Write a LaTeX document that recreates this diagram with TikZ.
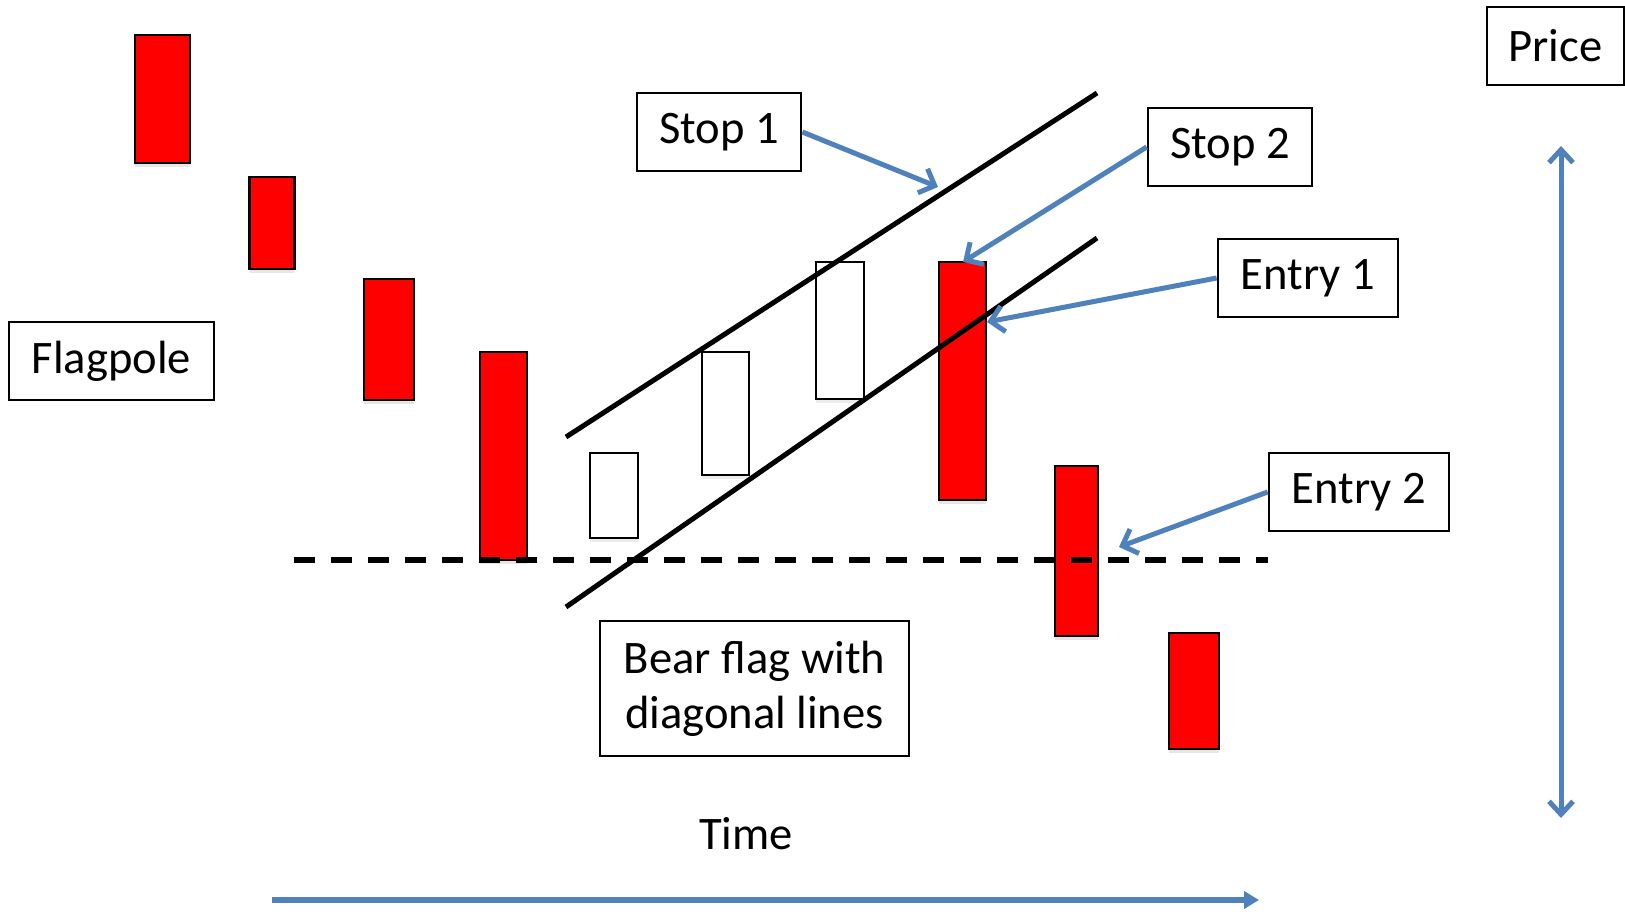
\documentclass[tikz,border=0pt]{standalone}
\usepackage{fontspec}
\setmainfont{Carlito}
\usetikzlibrary{arrows.meta,shadows}
\definecolor{arrowblue}{RGB}{79,129,189}

\begin{document}
\begin{tikzpicture}[x=1pt,y=-1pt]

    \tikzset{
      bear/.style={
        draw,
        fill=red,
        line width=2.7pt,
        inner sep=0pt,
        drop shadow={opacity=0.2,shadow xshift=0pt,shadow yshift=-4pt},
      },
      hollow/.style={
        draw,
        fill=white,
        line width=2pt,
        inner sep=0pt,
        drop shadow={opacity=0.15,shadow xshift=0pt,shadow yshift=-4pt},
      },
      tag/.style={
        draw,
        fill=white,
        line width=2.7pt,
        inner sep=0pt,
        minimum height=78pt,
        font=\fontsize{46.6}{56}\selectfont,
      },
      pointer/.style={
        draw=arrowblue,
        line width=5pt,
        -{Straight Barb[length=13pt,width=26pt,line width=5pt]},
      },
    }
    \useasboundingbox (0,0) rectangle (1625,912);

    % flagpole candles
    \node[bear, minimum width=55pt, minimum height=128pt] (c1) at (162.5,99) {};
    \node[bear, minimum width=44.5pt, minimum height=92pt] (c2) at (272,223) {};
    \node[bear, minimum width=50pt, minimum height=121pt] (c3) at (389,339.5) {};
    \node[bear, minimum width=47pt, minimum height=208pt] (c4) at (503.5,456) {};
    % flag candles
    \node[hollow, minimum width=48pt, minimum height=85pt] (h1) at (614,495.5) {};
    \node[hollow, minimum width=47pt, minimum height=123pt] (h2) at (725,413.5) {};
    \node[hollow, minimum width=48pt, minimum height=137pt] (h3) at (840,330.5) {};
    % breakout candles
    \node[bear, minimum width=47pt, minimum height=238pt] (c5) at (962.5,381) {};
    \node[bear, minimum width=43pt, minimum height=170pt] (c6) at (1076.5,551) {};
    \node[bear, minimum width=50pt, minimum height=116pt] (c7) at (1194,691) {};

    % channel and support
    \coordinate (upA) at (566,437);
    \coordinate (upB) at (1097,93);
    \coordinate (loA) at (566,607);
    \coordinate (loB) at (1097,238);
    \coordinate (supA) at (294,560);
    \coordinate (supB) at (1268,560);
    \draw[line width=5pt] (upA) -- (upB);
    \draw[line width=5pt] (loA) -- (loB);
    \draw[line width=5.3pt, dash pattern=on 21pt off 16pt] (supA) -- (supB);

    % labels
    \node[tag, minimum width=205pt] (flagpole) at (111.5,361) {Flagpole};
    \node[tag, minimum width=164pt] (stop1) at (719,132) {Stop 1};
    \node[tag, minimum width=164pt] (stop2) at (1230,147) {Stop 2};
    \node[tag, minimum width=180pt] (entry1) at (1308,278) {Entry 1};
    \node[tag, minimum width=180pt] (entry2) at (1359,492) {Entry 2};
    \node[tag, minimum width=137pt] (price) at (1555.5,46) {Price};
    \node[tag, minimum width=309pt, minimum height=135pt, align=center,
      font=\fontsize{46.6}{55}\selectfont] (flag) at (754.5,688.5) {Bear flag with\\diagonal lines};
    \node[font=\fontsize{46.6}{56}\selectfont] (time) at (746,834) {Time};

    % pointers
    \coordinate (s1end) at (938,187);
    \coordinate (s2end) at (963,262);
    \coordinate (e1end) at (987,322);
    \coordinate (e2end) at (1119,547);
    \draw[pointer] (stop1.east) -- (s1end);
    \draw[pointer] (stop2.west) -- (s2end);
    \draw[pointer] (entry1.west) -- (e1end);
    \draw[pointer] (entry2.west) -- (e2end);

    % axes
    \coordinate (ptop) at (1561,146);
    \coordinate (pbot) at (1561,818);
    \coordinate (tleft) at (272,900);
    \coordinate (tright) at (1259,900);
    \draw[draw=arrowblue, line width=5pt,
      {Straight Barb[length=13pt,width=24pt,line width=5pt]}-{Straight Barb[length=13pt,width=24pt,line width=5pt]}] (ptop) -- (pbot);
    \draw[draw=arrowblue, line width=5.5pt,
      -{Triangle[length=15pt,width=17pt]}, arrowblue] (tleft) -- (tright);

\end{tikzpicture}
\end{document}
